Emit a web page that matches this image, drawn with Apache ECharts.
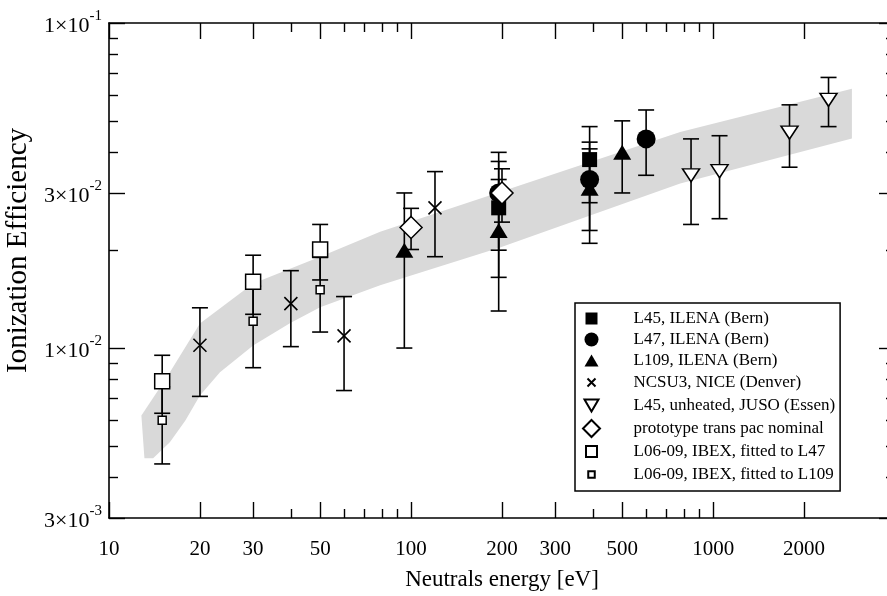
<!DOCTYPE html>
<html>
<head>
<meta charset="utf-8">
<script src="https://cdn.jsdelivr.net/npm/echarts@6/dist/echarts.min.js"></script>
<style>
  html, body { margin: 0; background: #fff; }
  #chart { width: 887px; height: 596px; }
</style>
</head>
<body>
<div id="chart"></div>
<script>
// energies [eV], ionization efficiency, +/- error
var l45E = [195, 390];
var l45V = [0.027, 0.038];
var l45Err = [0.0105, 0.010];

var l47E = [195, 390, 600];
var l47V = [0.030, 0.033, 0.044];
var l47Err = [0.010, 0.010, 0.010];

var l109E = [95, 195, 390, 500];
var l109V = [0.020, 0.023, 0.031, 0.040];
var l109Err = [0.010, 0.010, 0.010, 0.010];

var ncsuE = [20, 40, 60, 120];
var ncsuV = [0.0102, 0.0137, 0.0109, 0.0270];
var ncsuErr = [0.0031, 0.0036, 0.0035, 0.0079];

var jusoE = [845, 1050, 1790, 2410];
var jusoV = [0.034, 0.035, 0.046, 0.058];
var jusoErr = [0.010, 0.010, 0.010, 0.010];

var protoE = [100, 200];
var protoV = [0.0235, 0.030];
var protoErr = [0.0034, 0.0056];

var ibex47E = [15, 30, 50];
var ibex47V = [0.0079, 0.0160, 0.0201];
var ibex47Err = [0.0016, 0.0033, 0.0039];

var ibex109E = [15, 30, 50];
var ibex109V = [0.0060, 0.0121, 0.0151];
var ibex109Err = [0.0016, 0.0034, 0.0039];

// grey band (upper and lower edge)
var bandUpperE = [12.8, 15.5, 20, 30, 50, 79, 197, 778, 2880];
var bandUpper = [0.0062, 0.0081, 0.0119, 0.0158, 0.0191, 0.0228, 0.0302, 0.0462, 0.0628];
var bandLowerE = [13.1, 14.0, 15.9, 17.9, 20, 23.3, 30, 39.7, 50, 79, 197, 778, 2880];
var bandLower = [0.00458, 0.00458, 0.00513, 0.00599, 0.00715, 0.00842, 0.01019, 0.01191, 0.01334, 0.0156, 0.0204, 0.0321, 0.0441];

// ticks
var xMajor = [10, 20, 30, 50, 100, 200, 300, 500, 1000, 2000];
var xMinor = [40, 60, 70, 80, 90, 400, 600, 700, 800, 900];
var yMajor = [0.003, 0.01, 0.03, 0.1];
var yMinor = [0.004, 0.005, 0.006, 0.007, 0.008, 0.009, 0.02, 0.04, 0.05, 0.06, 0.07, 0.08, 0.09];

var FONT = 'Liberation Serif';

var chart = echarts.init(document.getElementById('chart'));

function pts(E, V) {
  return E.map(function (e, i) { return [e, V[i]]; });
}
function errs(E, V, D) {
  return E.map(function (e, i) { return [e, V[i] - D[i], V[i] + D[i]]; });
}

function errSeries(name, E, V, D) {
  return {
    name: name,
    type: 'custom',
    z: 2,
    silent: true,
    data: errs(E, V, D),
    encode: { x: 0, y: [1, 2] },
    renderItem: function (params, api) {
      var lo = api.coord([api.value(0), api.value(1)]);
      var hi = api.coord([api.value(0), api.value(2)]);
      var w = 8;
      var st = { stroke: '#000', lineWidth: 1.6 };
      return {
        type: 'group',
        children: [
          { type: 'line', shape: { x1: lo[0], y1: lo[1], x2: hi[0], y2: hi[1] }, style: st },
          { type: 'line', shape: { x1: lo[0] - w, y1: lo[1], x2: lo[0] + w, y2: lo[1] }, style: st },
          { type: 'line', shape: { x1: hi[0] - w, y1: hi[1], x2: hi[0] + w, y2: hi[1] }, style: st }
        ]
      };
    }
  };
}

var filled = { color: '#000', opacity: 1 };
var open = { color: '#fff', borderColor: '#000', borderWidth: 1.5, opacity: 1 };

var names = [
  'L45, ILENA (Bern)',
  'L47, ILENA (Bern)',
  'L109, ILENA (Bern)',
  'NCSU3, NICE (Denver)',
  'L45, unheated, JUSO (Essen)',
  'prototype trans pac nominal',
  'L06-09, IBEX, fitted to L47',
  'L06-09, IBEX, fitted to L109'
];

// legend icons, all drawn in a 17x17 box
var box = 'path://M0,0M17,17';
var icons = [
  box + 'M2.5,2.5L14.5,2.5L14.5,14.5L2.5,14.5Z',
  box + 'M1.5,8.5A7,7 0 1,1 15.5,8.5A7,7 0 1,1 1.5,8.5Z',
  box + 'M1.5,14.5L15.5,14.5L8.5,2.5Z',
  box + 'M4.5,4.5L12.5,12.5M12.5,4.5L4.5,12.5',
  box + 'M1.5,2.5L15.5,2.5L8.5,14.5Z',
  'path://M8.5,0L17,8.5L8.5,17L0,8.5Z',
  box + 'M3,3L14,3L14,14L3,14Z',
  box + 'M5.25,5.25L11.75,5.25L11.75,11.75L5.25,11.75Z'
];

var crossPath = 'path://M0,0L10,10M10,0L0,10';

function scatter(i, E, V, symbol, size, style, rotate) {
  return {
    name: names[i],
    type: 'scatter',
    z: 3,
    silent: true,
    symbol: symbol,
    symbolSize: size,
    symbolRotate: rotate || 0,
    itemStyle: style,
    data: pts(E, V)
  };
}

function axisX(ticks, len, showLabel, showLine, position) {
  return {
    type: 'log',
    logBase: 10,
    min: 10,
    max: 4000,
    position: position,
    gridIndex: 0,
    axisLine: { show: showLine, onZero: false, lineStyle: { color: '#000', width: 1.6 } },
    axisTick: { show: true, inside: true, length: len, customValues: ticks, lineStyle: { color: '#000', width: 1.4 } },
    axisLabel: {
      show: showLabel,
      customValues: ticks,
      margin: 21,
      color: '#000',
      fontFamily: FONT,
      fontSize: 21,
      formatter: function (v) { return String(Math.round(v)); }
    },
    splitLine: { show: false },
    minorTick: { show: false }
  };
}

function axisY(ticks, len, showLabel, showLine, position) {
  return {
    type: 'log',
    logBase: 10,
    min: 0.003,
    max: 0.1,
    position: position,
    gridIndex: 0,
    axisLine: { show: showLine, onZero: false, lineStyle: { color: '#000', width: 1.6 } },
    axisTick: { show: true, inside: true, length: len, customValues: ticks, lineStyle: { color: '#000', width: 1.4 } },
    axisLabel: {
      show: showLabel,
      customValues: ticks,
      margin: 7,
      color: '#000',
      fontFamily: FONT,
      formatter: function (v) {
        var p = Math.floor(Math.log10(v) + 1e-6);
        var m = Math.round(v / Math.pow(10, p));
        return '{a|' + m + '×10}{b|' + p + '}';
      },
      rich: {
        a: { fontFamily: FONT, fontSize: 22, color: '#000', lineHeight: 28, verticalAlign: 'bottom' },
        b: { fontFamily: FONT, fontSize: 15, color: '#000', lineHeight: 28, verticalAlign: 'top' }
      }
    },
    splitLine: { show: false },
    minorTick: { show: false }
  };
}

var xMain = axisX(xMajor, 16, true, true, 'bottom');
xMain.name = 'Neutrals energy [eV]';
xMain.nameLocation = 'middle';
xMain.nameGap = 50;
xMain.nameTextStyle = { fontFamily: FONT, fontSize: 23, color: '#000' };

var yMain = axisY(yMajor, 16, true, true, 'left');
yMain.name = 'Ionization Efficiency';
yMain.nameLocation = 'middle';
yMain.nameGap = 66;
yMain.nameTextStyle = { fontFamily: FONT, fontSize: 29, color: '#000', padding: [0, 0, 0, 40] };

var option = {
  backgroundColor: '#fff',
  animation: false,
  grid: { left: 109, top: 23, width: 786, height: 495, containLabel: false, outerBoundsMode: 'none' },
  xAxis: [
    xMain,
    axisX(xMinor, 9, false, false, 'bottom'),
    axisX(xMajor, 16, false, true, 'top'),
    axisX(xMinor, 9, false, false, 'top')
  ],
  yAxis: [
    yMain,
    axisY(yMinor, 9, false, false, 'left'),
    axisY(yMajor, 16, false, true, 'right'),
    axisY(yMinor, 9, false, false, 'right')
  ],
  legend: {
    orient: 'vertical',
    left: 575,
    top: 303,
    padding: [7, 5, 7, 7],
    backgroundColor: '#fff',
    borderColor: '#000',
    borderWidth: 1.5,
    borderRadius: 0,
    itemWidth: 30,
    itemHeight: 17,
    itemGap: 4,
    selectedMode: false,
    textStyle: { fontFamily: FONT, fontSize: 17, lineHeight: 17, color: '#000', padding: [0, 0, 0, 22] },
    data: names.map(function (n, i) { return { name: n, icon: icons[i] }; })
  },
  series: [
    {
      name: 'band',
      type: 'custom',
      z: 1,
      silent: true,
      data: [[bandUpperE[0], bandUpper[0]]],
      renderItem: function (params, api) {
        var p = [];
        for (var i = 0; i < bandUpperE.length; i++) p.push(api.coord([bandUpperE[i], bandUpper[i]]));
        for (var j = bandLowerE.length - 1; j >= 0; j--) p.push(api.coord([bandLowerE[j], bandLower[j]]));
        return { type: 'polygon', shape: { points: p, smooth: 0 }, style: { fill: '#d9d9d9' } };
      }
    },
    errSeries('e0', l45E, l45V, l45Err),
    errSeries('e1', l47E, l47V, l47Err),
    errSeries('e2', l109E, l109V, l109Err),
    errSeries('e3', ncsuE, ncsuV, ncsuErr),
    errSeries('e4', jusoE, jusoV, jusoErr),
    errSeries('e5', protoE, protoV, protoErr),
    errSeries('e6', ibex47E, ibex47V, ibex47Err),
    errSeries('e7', ibex109E, ibex109V, ibex109Err),
    scatter(0, l45E, l45V, 'rect', 15, filled),
    scatter(1, l47E, l47V, 'circle', 19, filled),
    scatter(2, l109E, l109V, 'triangle', [18, 15], filled),
    scatter(3, ncsuE, ncsuV, crossPath, 13, { color: 'transparent', borderColor: '#000', borderWidth: 1.6, opacity: 1 }),
    scatter(4, jusoE, jusoV, 'triangle', [17, 13], open, 180),
    scatter(5, protoE, protoV, 'diamond', 22, open),
    scatter(6, ibex47E, ibex47V, 'rect', 15, open),
    scatter(7, ibex109E, ibex109V, 'rect', 8, open)
  ]
};

chart.setOption(option);
</script>
</body>
</html>
